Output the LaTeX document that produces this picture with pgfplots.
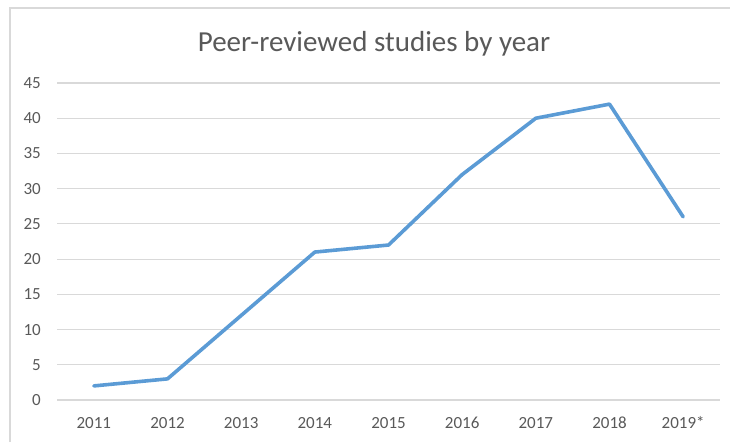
\documentclass[border=0pt]{standalone}
\usepackage{pgfplots}
\pgfplotsset{compat=1.18}
\usepackage{fontspec}
\setmainfont{Carlito}
\definecolor{linec}{HTML}{5B9BD5}
\definecolor{gridc}{HTML}{D9D9D9}
\definecolor{txt}{HTML}{595959}
\begin{document}
\begin{tikzpicture}[x=1pt,y=1pt]
\useasboundingbox (0,0) rectangle (730,442);
\draw[gridc, line width=1.2pt] (10,0) -- (10,434) -- (731,434);
\node[anchor=base, text=txt, font=\fontsize{29}{34}\selectfont, inner sep=0pt] at (374,390) {Peer-reviewed studies by year};
\begin{axis}[
  at={(57pt,42pt)}, anchor=south west,
  scale only axis, width=663pt, height=317pt,
  xmin=-0.5, xmax=8.5, ymin=0, ymax=45,
  ytick={0,5,...,45},
  xtick={0,...,8},
  xticklabels={2011,2012,2013,2014,2015,2016,2017,2018,2019*},
  /pgf/number format/assume math mode=true,
  axis line style={draw=none},
  major tick length=0pt,
  ymajorgrids,
  grid style={gridc, line width=1.2pt},
  tick label style={text=txt, font=\fontsize{17}{20}\selectfont, inner sep=0pt},
  yticklabel style={anchor=east, xshift=-16pt},
  xticklabel style={anchor=base, yshift=-28pt},
]
\addplot[linec, line width=3.6pt, line join=round, line cap=round, mark=none] coordinates {
(0,2) (1,3) (2,12) (3,21) (4,22) (5,32) (6,40) (7,42) (8,26)
};
\end{axis}
\end{tikzpicture}
\end{document}
